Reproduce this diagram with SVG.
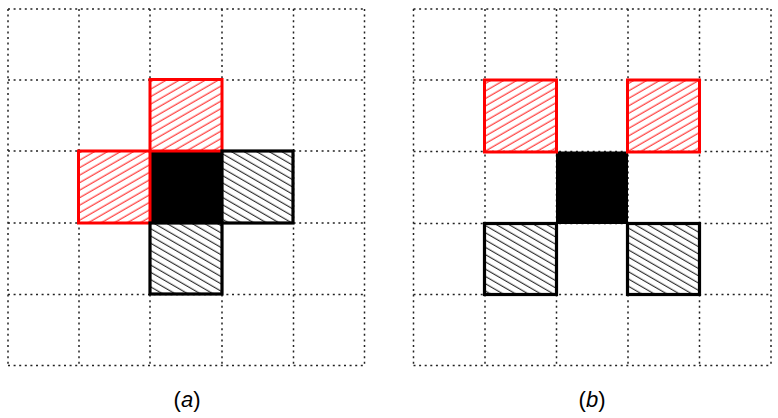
<svg xmlns="http://www.w3.org/2000/svg" width="778" height="418" viewBox="0 0 778 418">
<style>
.grid{stroke:#222;stroke-width:1.5;stroke-dasharray:2 3.6;fill:none}
.red{fill:url(#hr);stroke:#f00;stroke-width:3}
.blk{fill:url(#hb);stroke:#000;stroke-width:3.2}
.solid{fill:#000;stroke:#000;stroke-width:1}
.lbl{font-family:"Liberation Sans",Arial,sans-serif;font-size:22px;fill:#000}
</style>
<defs>
<pattern id="hr" width="10" height="6.5" patternUnits="userSpaceOnUse" patternTransform="rotate(-30)">
<line x1="0" y1="3" x2="10" y2="3" stroke="#f22" stroke-width="1.1"/>
</pattern>
<pattern id="hb" width="10" height="6.3" patternUnits="userSpaceOnUse" patternTransform="rotate(30)">
<line x1="0" y1="3" x2="10" y2="3" stroke="#222" stroke-width="1.1"/>
</pattern>
</defs>
<g id="grid-a">
<path class="grid" d="M8 9H364.5M8 80H364.5M8 151H364.5M8 223H364.5M8 294.5H364.5M8 365.5H364.5"/>
<path class="grid" d="M8 9V365.5M79 9V365.5M150 9V365.5M222 9V365.5M293.5 9V365.5M364.5 9V365.5"/>
</g>
<g id="grid-b">
<path class="grid" d="M413.5 9H771M413.5 80H771M413.5 151.5H771M413.5 223.5H771M413.5 294.5H771M413.5 365.5H771"/>
<path class="grid" d="M413.5 9V365.5M485 9V365.5M556.5 9V365.5M628 9V365.5M699.5 9V365.5M771 9V365.5"/>
</g>
<g id="a-cells">
<rect id="a-center" class="solid" x="150" y="151" width="72" height="72"/>
<rect id="a-top" class="red" x="150" y="79.5" width="72" height="71.5"/>
<rect id="a-left" class="red" x="78.5" y="151" width="71.5" height="72"/>
<rect id="a-right" class="blk" x="222" y="151" width="71" height="72"/>
<rect id="a-bottom" class="blk" x="150" y="223" width="72" height="71"/>
</g>
<g id="b-cells">
<rect id="b-center" class="solid" x="556.5" y="152" width="71" height="71.5"/>
<rect id="b-tl" class="red" x="484.5" y="80" width="72" height="72"/>
<rect id="b-tr" class="red" x="627.5" y="80" width="72" height="72"/>
<rect id="b-bl" class="blk" x="484.5" y="223.5" width="72" height="71"/>
<rect id="b-br" class="blk" x="627.5" y="223.5" width="72" height="71"/>
</g>
<text class="lbl" x="187" y="407" text-anchor="middle">(<tspan font-style="italic">a</tspan>)</text>
<text class="lbl" x="592" y="407" text-anchor="middle">(<tspan font-style="italic">b</tspan>)</text>
</svg>
